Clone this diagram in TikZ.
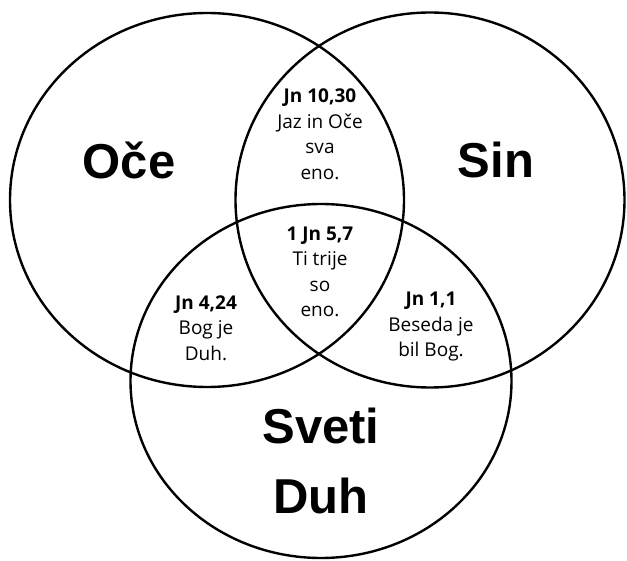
\documentclass[tikz,border=0pt]{standalone}
\usepackage{fontspec}
\newfontfamily\versefont{Open Sans}
\newfontfamily\namefont{Liberation Sans}
\usetikzlibrary{shapes.geometric}

\begin{document}
\begin{tikzpicture}[x=1pt, y=-1pt,
    ring/.style={draw, ellipse, line width=2.4pt, inner sep=0pt},
    person/.style={font=\namefont\bfseries\fontsize{49}{70}\selectfont, align=center},
    verse/.style={font=\versefont\fontsize{19}{25.5}\selectfont, align=center}]
    \useasboundingbox (0,0) rectangle (627,561);
    \fill[white] (0,0) rectangle (627,561);

    % the three circles
    \node (oce) [ring, minimum width=394pt, minimum height=374pt] at (207,200) {};
    \node (sin) [ring, minimum width=389pt, minimum height=375pt] at (430,200) {};
    \node (duh) [ring, minimum width=381pt, minimum height=354pt] at (321,381) {};

    % names
    \node (oceName) [person] at (129,160) {Oče};
    \node (sinName) [person] at (496,160) {Sin};
    \node (duhName) [person] at (321,461) {Sveti\\Duh};

    % verses in the overlaps
    \node (jn1030) [verse] at (320,134) {\textbf{Jn 10,30}\\Jaz in Oče\\sva\\eno.};
    \node (ijn57) [verse] at (320,272) {\textbf{1 Jn 5,7}\\Ti trije\\so\\eno.};
    \node (jn424) [verse] at (206,328) {\textbf{Jn 4,24}\\Bog je\\Duh.};
    \node (jn11) [verse] at (431,327) {\textbf{Jn 1,1}\\Beseda je\\bil Bog.};
\end{tikzpicture}
\end{document}
